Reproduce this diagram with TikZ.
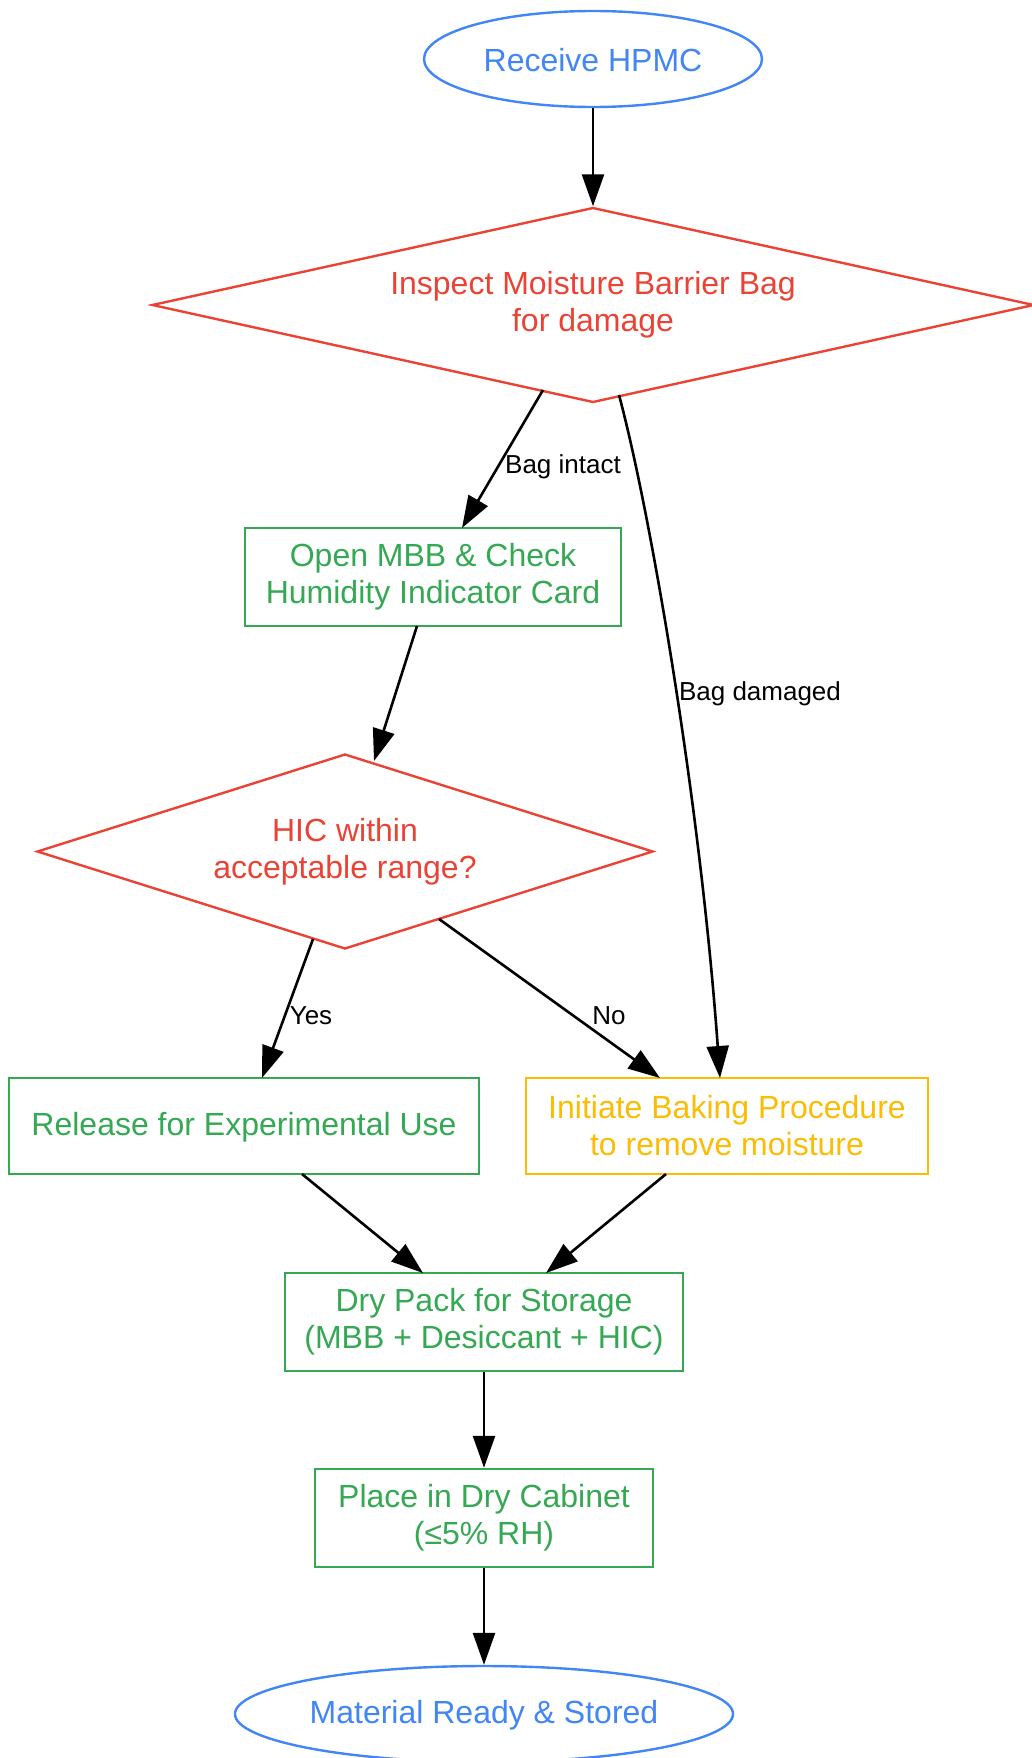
\documentclass[tikz,border=0pt]{standalone}
\usepackage{fontspec}
\setmainfont{Liberation Sans}
\usetikzlibrary{shapes.geometric,arrows.meta,calc}
\definecolor{gblue}{HTML}{4285F4}
\definecolor{gred}{HTML}{EA4335}
\definecolor{ggreen}{HTML}{34A853}
\definecolor{gyellow}{HTML}{FBBC04}
\begin{document}
\begin{tikzpicture}[x=1pt,y=-1pt,
  base/.style={line width=2.4pt, inner sep=0pt, align=center, font=\fontsize{32}{37}\selectfont,
    execute at begin node={\rule{0pt}{25.5pt}}},
  oval/.style={base, ellipse, draw=gblue, text=gblue},
  dia/.style={base, diamond, draw=gred, text=gred},
  gbox/.style={base, rectangle, draw=ggreen, text=ggreen},
  ybox/.style={base, rectangle, draw=gyellow, text=gyellow},
  edge/.style={line width=2.6pt, -{Triangle[length=32pt,width=22pt]}},
  lbl/.style={font=\fontsize{26}{30}\selectfont, inner sep=0pt}]
\useasboundingbox (0,0) rectangle (1032,1758);
\node[oval, minimum width=338pt, minimum height=96pt] (recv) at (593,59) {Receive HPMC};
\node[dia, aspect=4.5, minimum width=882pt, minimum height=195pt] (insp) at (593,305) {Inspect Moisture Barrier Bag\\for damage};
\node[gbox, minimum width=376pt, minimum height=98pt] (open) at (433,577) {Open MBB \& Check\\Humidity Indicator Card};
\node[dia, aspect=3.16, minimum width=616pt, minimum height=195pt] (hic) at (345,851.5) {HIC within\\acceptable range?};
\node[gbox, minimum width=470pt, minimum height=96pt] (rel) at (244,1126) {Release for Experimental Use};
\node[ybox, minimum width=402pt, minimum height=96pt] (bake) at (727,1126) {Initiate Baking Procedure\\to remove moisture};
\node[gbox, minimum width=398pt, minimum height=98pt] (dry) at (484,1322) {Dry Pack for Storage\\(MBB + Desiccant + HIC)};
\node[gbox, minimum width=338pt, minimum height=98pt] (place) at (484,1518) {Place in Dry Cabinet\\(≤5\% RH)};
\node[oval, minimum width=498pt, minimum height=96pt] (mat) at (484,1714) {Material Ready \& Stored};

\draw[edge] (recv.south) -- (insp.north);
\draw[edge] ([shift={(-50,85)}]insp.center) -- ([shift={(29,-49)}]open.center);
\draw[edge] ([shift={(26,90)}]insp.center) .. controls (650,510) and (700,800) .. ([shift={(-7,-48)}]bake.center);
\draw[edge] ([shift={(-16,49)}]open.center) -- ([shift={(29,-90.5)}]hic.center);
\draw[edge] ([shift={(-32,87.5)}]hic.center) -- ([shift={(18,-48)}]rel.center);
\draw[edge] ([shift={(94,67.5)}]hic.center) -- ([shift={(-67,-48)}]bake.center);
\draw[edge] ([shift={(58,48)}]rel.center) -- ([shift={(-61,-49)}]dry.center);
\draw[edge] ([shift={(-61,48)}]bake.center) -- ([shift={(62,-49)}]dry.center);
\draw[edge] (dry.south) -- (place.north);
\draw[edge] (place.south) -- (mat.north);

\node[lbl] (l1) at (563,467) {Bag intact};
\node[lbl] (l2) at (760,694) {Bag damaged};
\node[lbl] (l3) at (311,1016) {Yes};
\node[lbl] (l4) at (609,1016) {No};
\end{tikzpicture}
\end{document}
